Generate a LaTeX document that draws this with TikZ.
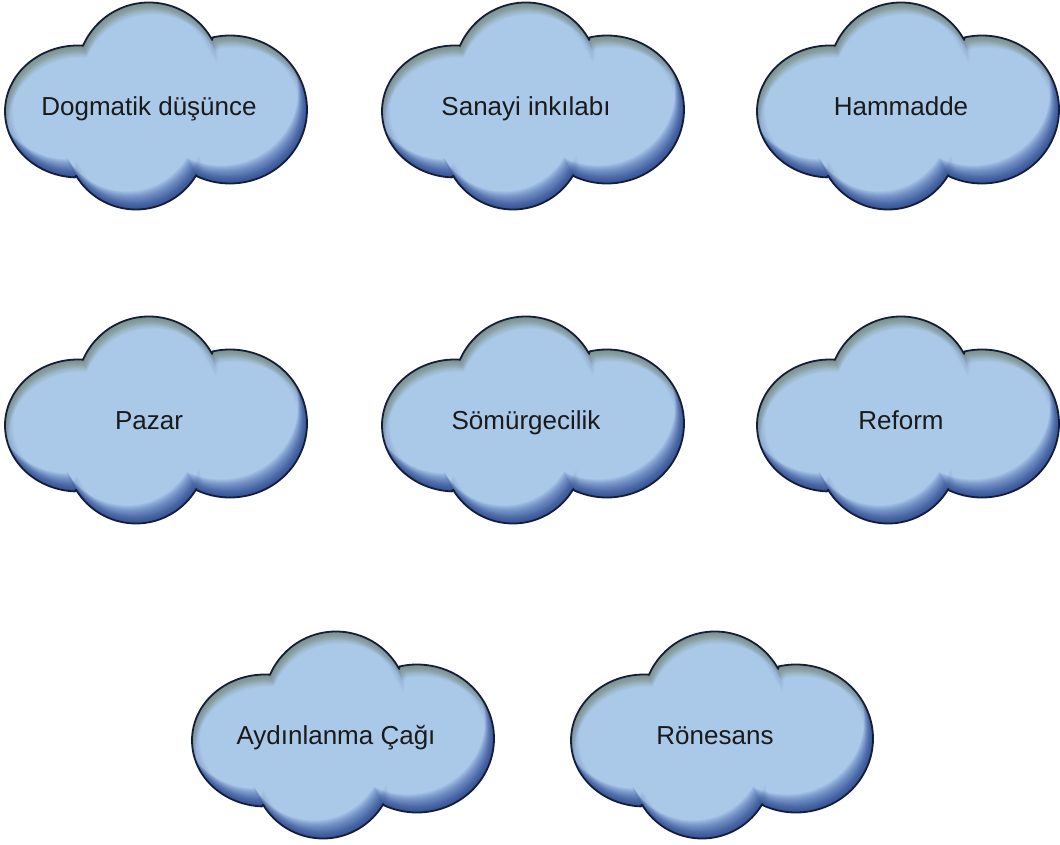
\documentclass[tikz,border=0pt]{standalone}
\usepackage{fontspec}
\setmainfont{Liberation Sans}
\definecolor{cloudbase}{HTML}{AAC9E9}
\definecolor{cloudblue}{HTML}{223F8E}
\definecolor{cloudolive}{HTML}{78886A}
\definecolor{cloudglow}{HTML}{5C74A8}
\definecolor{cloudedge}{HTML}{141E38}
\definecolor{cloudtextcol}{HTML}{1A1A1A}
\tikzset{
  cloudfill/.style={fill=cloudbase},
  cloudshade/.style={fill=cloudblue, fill opacity=0.075, even odd rule},
  cloudtint/.style={fill=cloudolive, fill opacity=0.075, even odd rule},
  cloudglowline/.style={draw=cloudglow, draw opacity=0.05},
  cloudline/.style={draw=cloudedge, line width=1.8pt, line join=round},
  cloudtext/.style={anchor=base, text=cloudtextcol, font=\fontsize{26}{31}\selectfont, inner sep=0pt}
}
\newcommand\cloudpath[2]{%
 ({#1-7+72*cos(28.7)},{#2+31.5+72*sin(28.7)}) arc[start angle=28.7,end angle=156.6,radius=72]
 -- ({#1-78+73*cos(87)},{#2-5.5+66*sin(87)}) arc[start angle=87,end angle=267.6,x radius=73,y radius=66]
 -- ({#1-20+70*cos(211.2)},{#2-33.5+70*sin(211.2)}) arc[start angle=211.2,end angle=329.5,radius=70]
 -- ({#1+74+77*cos(-115.7)},{#2-3.5+74*sin(-115.7)}) arc[start angle=-115.7,end angle=103.1,x radius=77,y radius=74]
 -- cycle}
\newcommand\drawcloud[4]{%
 \fill[cloudfill] \cloudpath{#2}{#3};
 \begin{scope}
  \clip \cloudpath{#2}{#3};
  \foreach \w in {2,4,...,16}{\draw[cloudglowline, line width=\w pt] \cloudpath{#2}{#3};}
  \foreach \s in {1,...,18}{\fill[cloudshade] (#2-200,#3-200) rectangle (#2+200,#3+200) \cloudpath{#2-0.5*\s}{#3+\s};}
  \foreach \s in {1,...,12}{\fill[cloudtint] (#2-200,#3-200) rectangle (#2+200,#3+200) \cloudpath{#2+0.3*\s}{#3-\s};}
 \end{scope}
 \draw[cloudline] \cloudpath{#2}{#3};
 \node[cloudtext] (#1) at (#2-7,#3-9.5) {#4};
}
\begin{document}
\begin{tikzpicture}[x=1pt,y=1pt]
\useasboundingbox (0,0) rectangle (1060,844);
\drawcloud{dogmatik}{156}{738}{Dogmatik düşünce}
\drawcloud{sanayi}{533}{738}{Sanayi inkılabı}
\drawcloud{hammadde}{908}{738}{Hammadde}
\drawcloud{pazar}{156}{424}{Pazar}
\drawcloud{somurge}{533}{424}{Sömürgecilik}
\drawcloud{reform}{908}{424}{Reform}
\drawcloud{aydinlanma}{343}{109}{Aydınlanma Çağı}
\drawcloud{ronesans}{722}{109}{Rönesans}
\end{tikzpicture}
\end{document}
